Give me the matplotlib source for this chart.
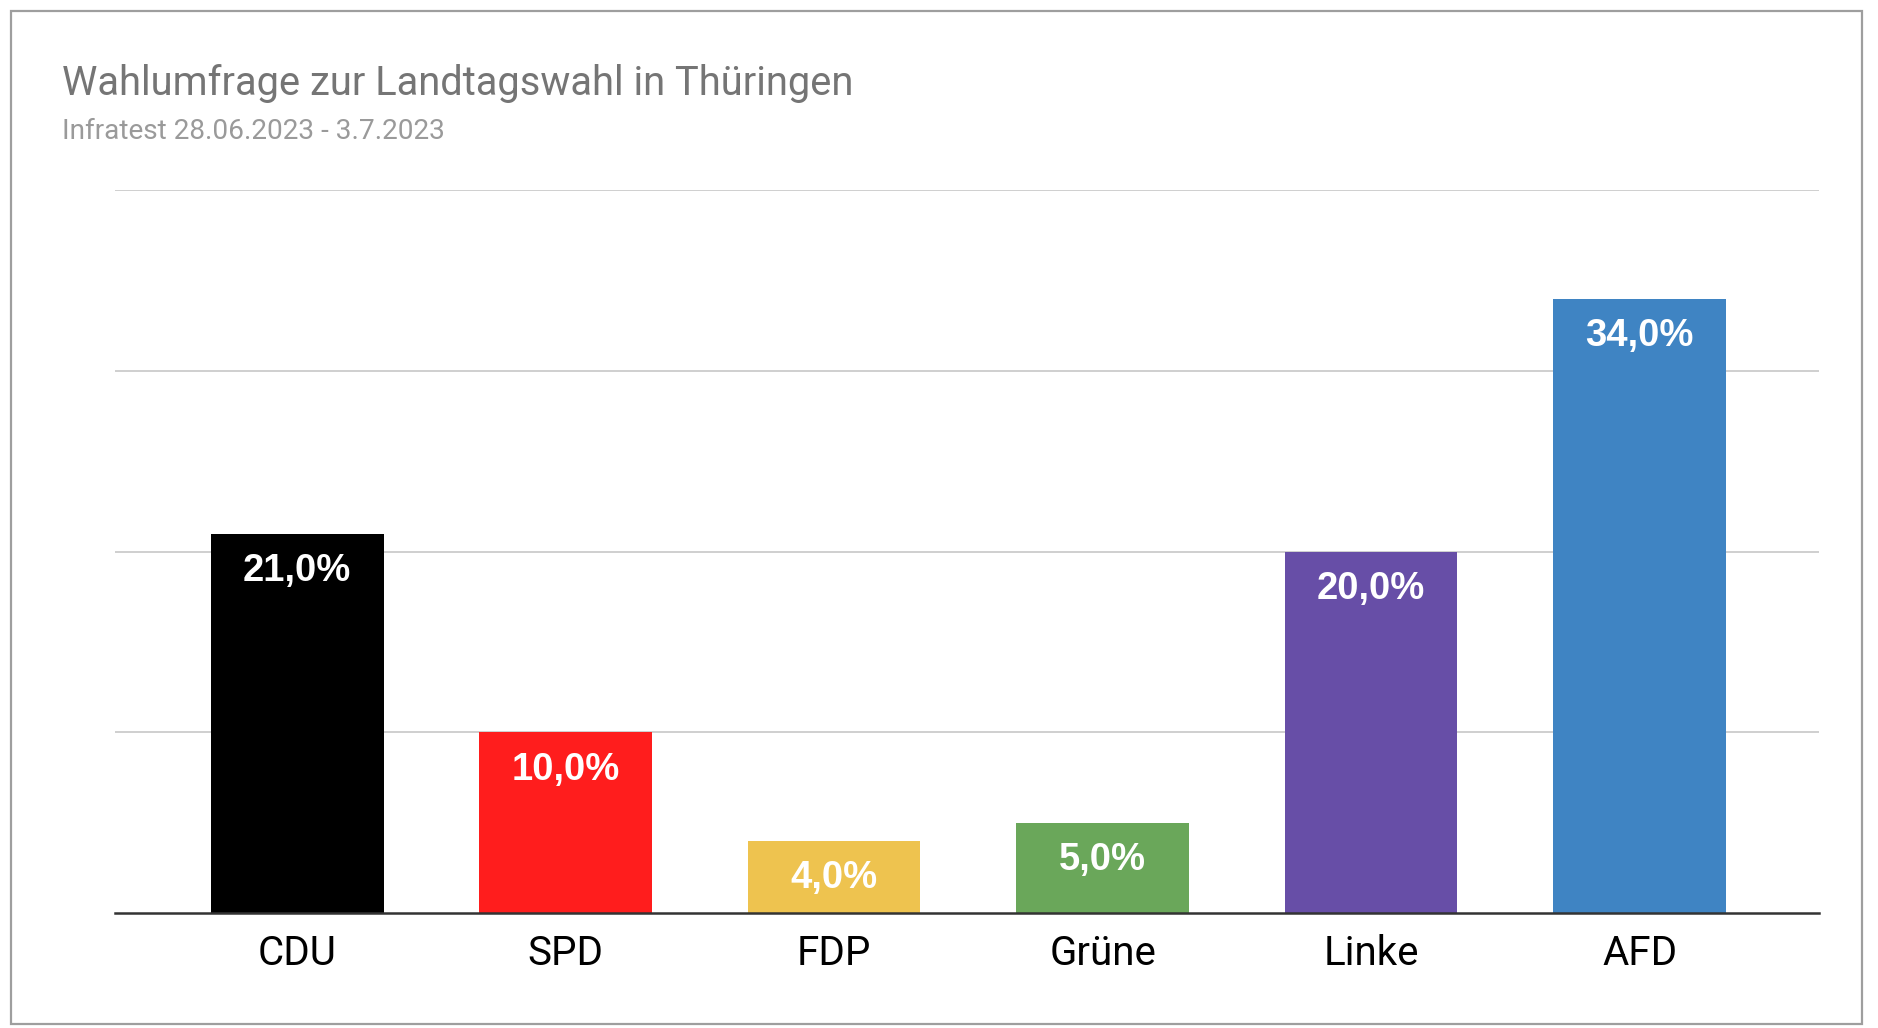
import matplotlib.pyplot as plt
from matplotlib.patches import Rectangle

parties = ['CDU', 'SPD', 'FDP', 'Grüne', 'Linke', 'AFD']
werte = [21.0, 10.0, 4.0, 5.0, 20.0, 34.0]
farben = ['#000000', '#ff1d1d', '#eec34f', '#6aa75a', '#674ea7', '#3f84c3']
labels = ['21,0%', '10,0%', '4,0%', '5,0%', '20,0%', '34,0%']

plt.rcParams['font.family'] = ['Roboto', 'DejaVu Sans']

fig = plt.figure(figsize=(18.78, 10.28), dpi=100)
ax = fig.add_axes([0.0612, 0.1119, 0.9076, 0.7028])

# Rahmen um das ganze Bild
fig.patches.append(Rectangle((0.0057, 0.0035), 0.986, 0.986, transform=fig.transFigure,
                             fill=False, edgecolor='#9e9e9e', lw=1.6))

x = list(range(len(parties)))
bars = ax.bar(x, werte, width=0.643, color=farben, zorder=3)

for xi, v, lab in zip(x, werte, labels):
    ax.annotate(lab, (xi, v), xytext=(0, -34), textcoords='offset points',
                ha='center', va='baseline', color='white', fontsize=27.5,
                fontweight='bold', family='Liberation Sans', zorder=4)

ax.set_ylim(0, 40)
ax.set_xlim(-0.679, 5.67)
ax.set_yticks([10, 20, 30, 40])
ax.yaxis.grid(True, color='#cccccc', lw=1.3, zorder=0)
ax.set_yticklabels([])
ax.tick_params(axis='y', length=0)
ax.set_xticks(x)
ax.set_xticklabels(parties, fontsize=29, color='black')
ax.tick_params(axis='x', length=0, pad=15)
for s in ['top', 'right', 'left']:
    ax.spines[s].set_visible(False)
ax.spines['bottom'].set_color('#333333')
ax.spines['bottom'].set_linewidth(1.8)
ax.spines['bottom'].set_zorder(5)

fig.text(0.0332, 0.9076, 'Wahlumfrage zur Landtagswahl in Thüringen', fontsize=28.7,
         color='#757575', va='baseline', ha='left')
fig.text(0.0332, 0.8648, 'Infratest 28.06.2023 - 3.7.2023', fontsize=20.2,
         color='#9a9a9a', va='baseline', ha='left')

plt.savefig('out.png', dpi=100)
